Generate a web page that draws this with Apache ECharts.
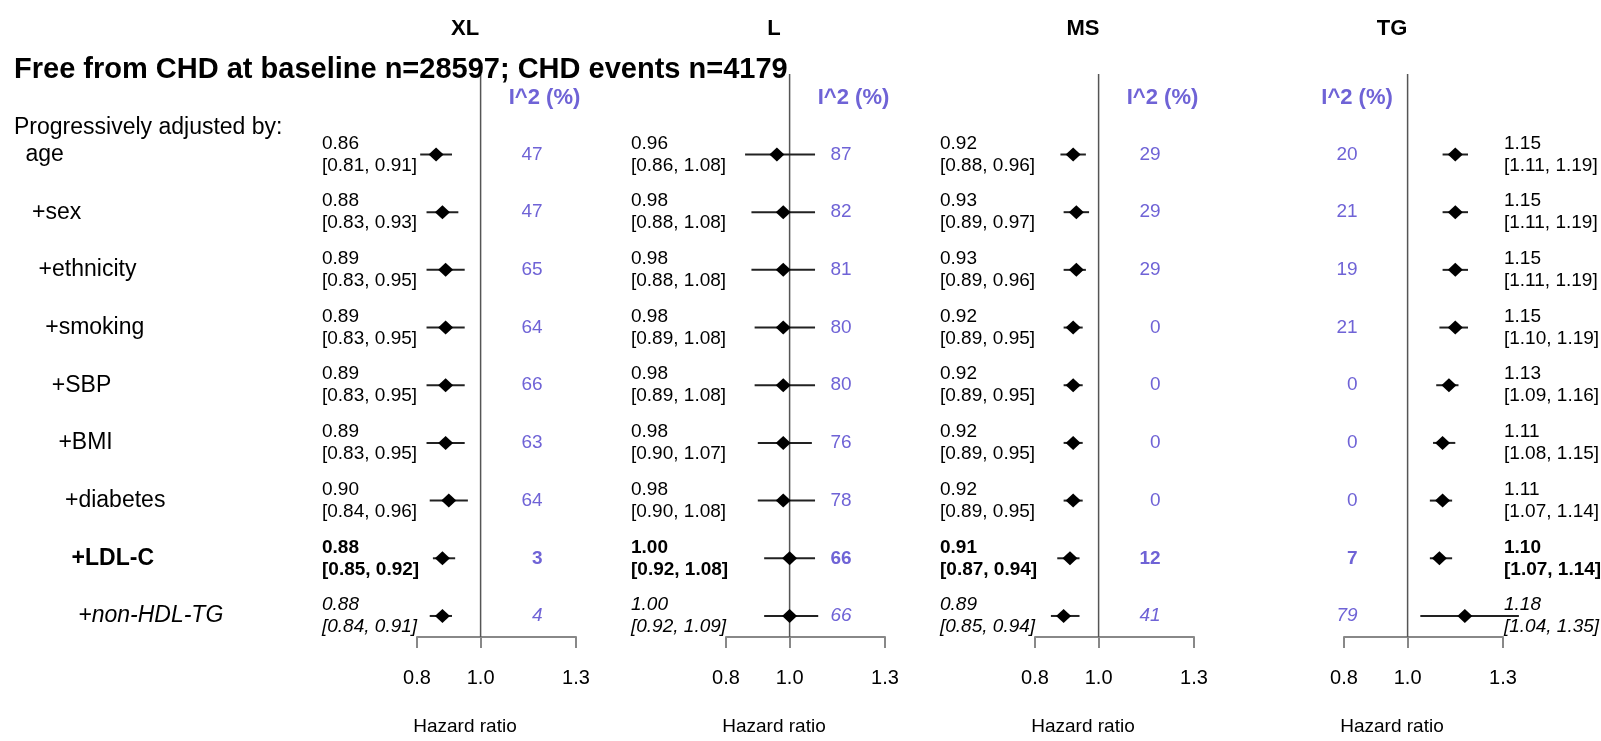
<!DOCTYPE html>
<html><head><meta charset="utf-8">
<script src="https://cdn.jsdelivr.net/npm/echarts@6/dist/echarts.min.js"></script>
<style>html,body{margin:0;padding:0;background:#fff}#c{width:1601px;height:741px}</style>
</head><body><div id="c"></div>
<script>
const mainTitle = 'Free from CHD at baseline n=28597; CHD events n=4179';
const adjustedBy = 'Progressively adjusted by:';
const categories = ['age', '+sex', '+ethnicity', '+smoking', '+SBP', '+BMI', '+diabetes', '+LDL-C', '+non-HDL-TG'];
const panelNames = ['XL', 'L', 'MS', 'TG'];
const i2Header = 'I^2 (%)';
const axisName = 'Hazard ratio';
const tickValues = [0.8, 1.0, 1.3];

const xlHR    = [0.86, 0.88, 0.89, 0.89, 0.89, 0.89, 0.90, 0.88, 0.88];
const xlLower = [0.81, 0.83, 0.83, 0.83, 0.83, 0.83, 0.84, 0.85, 0.84];
const xlUpper = [0.91, 0.93, 0.95, 0.95, 0.95, 0.95, 0.96, 0.92, 0.91];
const xlI2    = [47, 47, 65, 64, 66, 63, 64, 3, 4];

const lHR    = [0.96, 0.98, 0.98, 0.98, 0.98, 0.98, 0.98, 1.00, 1.00];
const lLower = [0.86, 0.88, 0.88, 0.89, 0.89, 0.90, 0.90, 0.92, 0.92];
const lUpper = [1.08, 1.08, 1.08, 1.08, 1.08, 1.07, 1.08, 1.08, 1.09];
const lI2    = [87, 82, 81, 80, 80, 76, 78, 66, 66];

const msHR    = [0.92, 0.93, 0.93, 0.92, 0.92, 0.92, 0.92, 0.91, 0.89];
const msLower = [0.88, 0.89, 0.89, 0.89, 0.89, 0.89, 0.89, 0.87, 0.85];
const msUpper = [0.96, 0.97, 0.96, 0.95, 0.95, 0.95, 0.95, 0.94, 0.94];
const msI2    = [29, 29, 29, 0, 0, 0, 0, 12, 41];

const tgHR    = [1.15, 1.15, 1.15, 1.15, 1.13, 1.11, 1.11, 1.10, 1.18];
const tgLower = [1.11, 1.11, 1.11, 1.10, 1.09, 1.08, 1.07, 1.07, 1.04];
const tgUpper = [1.19, 1.19, 1.19, 1.19, 1.16, 1.15, 1.14, 1.14, 1.35];
const tgI2    = [20, 21, 19, 21, 0, 0, 0, 7, 79];

const panelData = [
  [xlHR, xlLower, xlUpper, xlI2],
  [lHR, lLower, lUpper, lI2],
  [msHR, msLower, msUpper, msI2],
  [tgHR, tgLower, tgUpper, tgI2]
];

const FONT = '"Liberation Sans", Arial, sans-serif';
const BLUE = '#6f63d6';
const PANEL_LEFT = [417, 726, 1035, 1344];
const PANEL_W = 159;
const GRID_TOP = 74;
const GRID_BOTTOM = 644;
const ROW0 = 155.5, ROW_STEP = 58.4;
const Y_MIN = (GRID_TOP - ROW0) / ROW_STEP, Y_MAX = (GRID_BOTTOM - ROW0) / ROW_STEP;

function fontFor(i, size) {
  if (i === 7) return 'bold ' + size + 'px ' + FONT;
  if (i === 8) return 'italic ' + size + 'px ' + FONT;
  return 'normal ' + size + 'px ' + FONT;
}
function txt(x, y, text, font, fill, align) {
  return {
    type: 'text', x: x, y: y,
    style: { text: text, font: font, fill: fill, align: align, verticalAlign: 'middle',
             textAlign: align, textVerticalAlign: 'middle' }
  };
}

function makeRender(p) {
  return function (params, api) {
    const row = api.value(0), est = api.value(1), lo = api.value(2), hi = api.value(3), i2 = api.value(4);
    const c = api.coord([est, row]);
    const cl = api.coord([lo, row]);
    const ch = api.coord([hi, row]);
    const cs = params.coordSys;
    const right = p === 3;
    const children = [];
    if (params.dataIndex === 0) {
      const x1 = api.coord([1, row])[0];
      children.push({ type: 'line', shape: { x1: x1, y1: cs.y, x2: x1, y2: cs.y + cs.height },
        style: { stroke: '#555', lineWidth: 1.5 } });
      children.push(txt(api.coord([0.951, row])[0], 29, panelNames[p], 'bold 22px ' + FONT, '#000', 'center'));
      children.push(txt(api.coord([right ? 0.841 : 1.201, row])[0], 98, i2Header, 'bold 22px ' + FONT, BLUE, 'center'));
      if (p === 0) {
        children.push(txt(14, 128, adjustedBy, 'normal 23px ' + FONT, '#000', 'left'));
      }
    }
    children.push({ type: 'line', shape: { x1: cl[0], y1: c[1], x2: ch[0], y2: c[1] },
      style: { stroke: '#222', lineWidth: 2 } });
    children.push({ type: 'polygon', shape: { points: [[c[0] - 7.5, c[1]], [c[0], c[1] - 7], [c[0] + 7.5, c[1]], [c[0], c[1] + 7]] },
      style: { fill: '#000' } });
    const label = est.toFixed(2) + '\n[' + lo.toFixed(2) + ', ' + hi.toFixed(2) + ']';
    const lx = right ? api.coord([1.3, row])[0] + 1 : api.coord([0.8, row])[0] - 95;
    const t = txt(lx, c[1], label, fontFor(row, 19), '#000', 'left');
    t.style.lineHeight = 22;
    children.push(t);
    const ix = api.coord([right ? 0.843 : 1.195, row])[0];
    children.push(txt(ix, c[1], String(i2), fontFor(row, 19), BLUE, 'right'));
    if (p === 0) {
      children.push(txt(25.4 + 6.6 * row, c[1], categories[row], fontFor(row, 23), '#000', 'left'));
    }
    return { type: 'group', children: children };
  };
}

const grids = [], xAxes = [], yAxes = [], series = [];
for (let p = 0; p < 4; p++) {
  grids.push({ left: PANEL_LEFT[p], top: GRID_TOP, width: PANEL_W, height: GRID_BOTTOM - GRID_TOP });
  xAxes.push({
    gridIndex: p, type: 'value', min: 0.8, max: 1.3,
    axisLine: { show: true, onZero: false, lineStyle: { color: '#888', width: 2 } },
    axisTick: { show: true, customValues: tickValues, length: 11, lineStyle: { color: '#888', width: 2 } },
    axisLabel: { show: true, customValues: tickValues, formatter: v => v.toFixed(1), fontSize: 20,
                 color: '#000', margin: 31, fontFamily: FONT },
    splitLine: { show: false },
    name: axisName, nameLocation: 'middle', nameGap: 80,
    nameTextStyle: { fontSize: 19, color: '#000', fontFamily: FONT, padding: [0, 63, 0, 0] }
  });
  yAxes.push({ gridIndex: p, type: 'value', inverse: true, min: Y_MIN, max: Y_MAX, show: false });
  const [hr, lo, hi, i2] = panelData[p];
  series.push({
    type: 'custom', xAxisIndex: p, yAxisIndex: p, clip: false, silent: true,
    renderItem: makeRender(p),
    encode: { x: 1, y: 0 },
    data: categories.map((_, i) => [i, hr[i], lo[i], hi[i], i2[i]])
  });
}

const chart = echarts.init(document.getElementById('c'), null, { renderer: 'canvas' });
chart.setOption({
  animation: false,
  backgroundColor: '#fff',
  title: { text: mainTitle, left: 14, top: 55, padding: 0,
           textStyle: { fontSize: 29, fontWeight: 'bold', color: '#000', fontFamily: FONT } },
  grid: grids, xAxis: xAxes, yAxis: yAxes, series: series
});
</script></body></html>
